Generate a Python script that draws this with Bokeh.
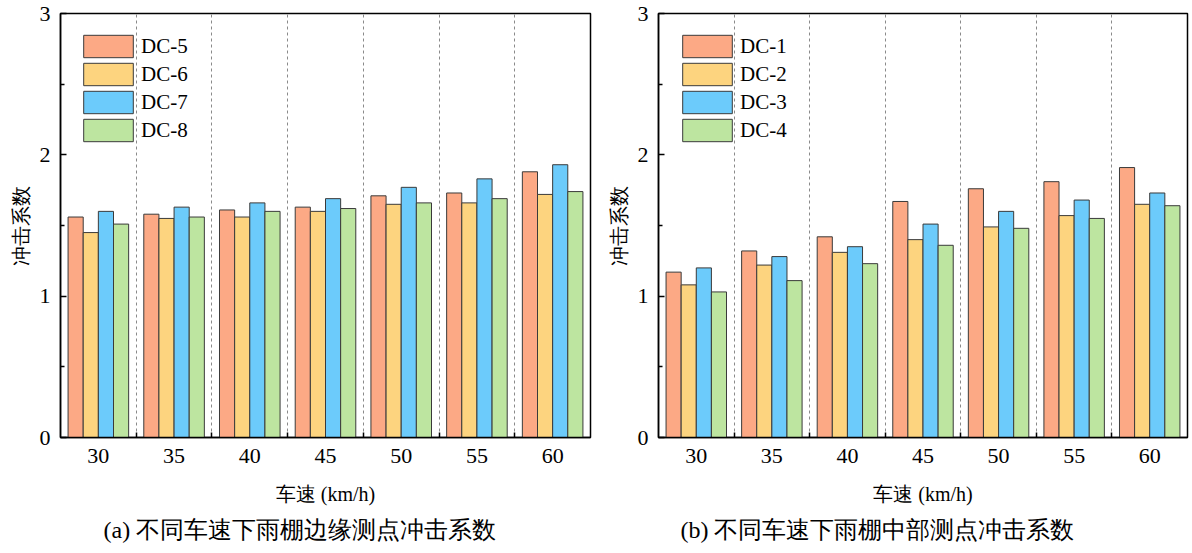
from bokeh.plotting import figure
from bokeh.models import (ColumnDataSource, FixedTicker, Legend, LegendItem, Title, Range1d)
from bokeh.layouts import row
from bokeh.transform import dodge
from bokeh.embed import file_html
from bokeh.resources import INLINE

speeds = ["30", "35", "40", "45", "50", "55", "60"]

# Panel (a): edge measuring points
edge_names = ["DC-5", "DC-6", "DC-7", "DC-8"]
DC5 = [1.56, 1.58, 1.61, 1.63, 1.71, 1.73, 1.88]
DC6 = [1.45, 1.55, 1.56, 1.60, 1.65, 1.66, 1.72]
DC7 = [1.60, 1.63, 1.66, 1.69, 1.77, 1.83, 1.93]
DC8 = [1.51, 1.56, 1.60, 1.62, 1.66, 1.69, 1.74]

# Panel (b): middle measuring points
mid_names = ["DC-1", "DC-2", "DC-3", "DC-4"]
DC1 = [1.17, 1.32, 1.42, 1.67, 1.76, 1.81, 1.91]
DC2 = [1.08, 1.22, 1.31, 1.40, 1.49, 1.57, 1.65]
DC3 = [1.20, 1.28, 1.35, 1.51, 1.60, 1.68, 1.73]
DC4 = [1.03, 1.11, 1.23, 1.36, 1.48, 1.55, 1.64]

colors = ["#FCA985", "#FDD47F", "#6CCBFB", "#BDE5A0"]
x_label = "车速 (km/h)"
y_label = "冲击系数"
caption_a = "(a)  不同车速下雨棚边缘测点冲击系数"
caption_b = "(b)  不同车速下雨棚中部测点冲击系数"

SERIF = "Liberation Serif"


def make_panel(names, series, caption, width, height, borders, cap_offset, legend_loc):
    n = len(speeds)
    data = {"xi": list(range(n))}
    for nm, s in zip(names, series):
        data[nm] = s
    src = ColumnDataSource(data)
    left, right, top, bottom = borders
    p = figure(width=width, height=height, output_backend="svg", toolbar_location=None,
               x_range=Range1d(-0.5, n - 0.5), y_range=Range1d(0, 3),
               min_border_left=left, min_border_right=right,
               min_border_top=top, min_border_bottom=bottom)
    p.background_fill_color = "white"
    p.border_fill_color = "white"
    p.outline_line_color = "black"
    p.outline_line_width = 1.5

    bw = 0.2
    offsets = [-0.3, -0.1, 0.1, 0.3]
    items = []
    for nm, c, off in zip(names, colors, offsets):
        r = p.vbar(x=dodge("xi", off, range=p.x_range), top=nm, width=bw, bottom=0,
                   source=src, fill_color=c, line_color="#3a3a3a", line_width=1)
        items.append(LegendItem(label=nm, renderers=[r]))

    # dashed lines between groups
    bounds = [i + 0.5 for i in range(n - 1)]
    p.ygrid.visible = False
    p.xgrid.ticker = FixedTicker(ticks=bounds)
    p.xgrid.grid_line_color = "#8a8a8a"
    p.xgrid.grid_line_dash = "3 3"
    p.xgrid.grid_line_width = 1

    xa = p.xaxis[0]
    xa.ticker = FixedTicker(ticks=list(range(n)), minor_ticks=bounds)
    xa.major_label_overrides = {i: s for i, s in enumerate(speeds)}
    xa.major_tick_in = 0
    xa.major_tick_out = 0
    xa.minor_tick_in = 5
    xa.minor_tick_out = 0
    xa.minor_tick_line_color = "black"
    xa.minor_tick_line_width = 1.5
    xa.axis_line_width = 1.5
    xa.axis_line_color = "black"
    xa.major_label_text_font = SERIF
    xa.major_label_text_font_size = "22px"
    xa.major_label_text_color = "black"
    xa.major_label_standoff = 11
    xa.axis_label = x_label
    xa.axis_label_text_font = SERIF
    xa.axis_label_text_font_size = "20px"
    xa.axis_label_text_font_style = "normal"
    xa.axis_label_text_color = "black"
    xa.axis_label_standoff = 17

    ya = p.yaxis[0]
    ya.ticker = FixedTicker(ticks=[0, 1, 2, 3], minor_ticks=[0.5, 1.5, 2.5])
    ya.major_tick_in = 6
    ya.major_tick_out = 0
    ya.minor_tick_in = 4
    ya.minor_tick_out = 0
    ya.major_tick_line_width = 1.5
    ya.minor_tick_line_width = 1.5
    ya.axis_line_width = 1.5
    ya.axis_line_color = "black"
    ya.major_label_text_font = SERIF
    ya.major_label_text_font_size = "22px"
    ya.major_label_text_color = "black"
    ya.major_label_standoff = 10
    ya.axis_label = y_label
    ya.axis_label_text_font = SERIF
    ya.axis_label_text_font_size = "20px"
    ya.axis_label_text_font_style = "normal"
    ya.axis_label_text_color = "black"
    ya.axis_label_standoff = 5

    legend = Legend(items=items, location=legend_loc, orientation="vertical",
                    glyph_width=62, glyph_height=28, label_height=28,
                    label_standoff=2, spacing=0, padding=0, margin=0,
                    border_line_color=None, background_fill_alpha=0,
                    label_text_font=SERIF, label_text_font_size="21px",
                    label_text_color="black")
    p.add_layout(legend)

    t = Title(text=caption, align="left", offset=cap_offset, text_font=SERIF,
              text_font_size="24px", text_font_style="normal", text_color="black",
              standoff=15)
    p.add_layout(t, "below")
    return p


pa = make_panel(edge_names, [DC5, DC6, DC7, DC8], caption_a, 598, 553,
                (60, 8, 13, 114), 43, (17, 293))
pb = make_panel(mid_names, [DC1, DC2, DC3, DC4], caption_b, 592, 553,
                (60, 3, 11, 116), 22, (18, 293))

layout = row(pa, pb)
open("out.html", "w").write(file_html(layout, INLINE))
